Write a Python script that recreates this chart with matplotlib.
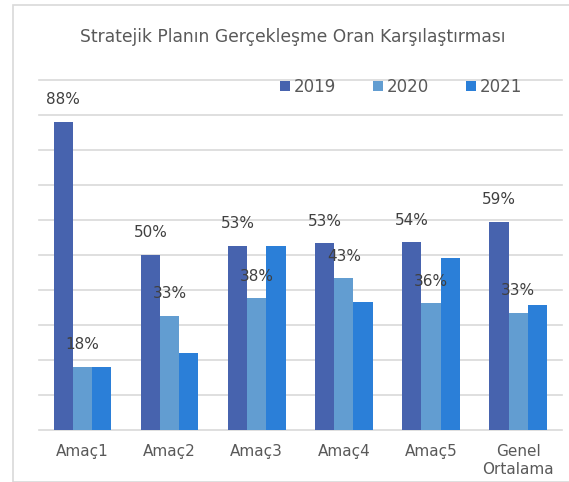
import matplotlib
matplotlib.use("Agg")
import matplotlib.pyplot as plt
import matplotlib.patches as patches
import numpy as np

# chart data
categories = ["Amaç1", "Amaç2", "Amaç3", "Amaç4", "Amaç5", "Genel\nOrtalama"]
years = ["2019", "2020", "2021"]
vals_2019 = [88, 50, 52.6, 53.3, 53.6, 59.4]
vals_2020 = [18, 32.6, 37.6, 43.3, 36.2, 33.4]
vals_2021 = [18, 22, 52.6, 36.7, 49.2, 35.7]
labelled = [True, True, False]  # only 2019 and 2020 carry data labels

colors = ["#4763ae", "#629dd1", "#2b7fd8"]
grid_col = "#d9d9d9"
text_col = "#595959"

fig = plt.figure(figsize=(5.69, 4.82), dpi=100)
ax = fig.add_axes([39 / 569, 1 - 430 / 482, (561.7 - 39) / 569, 350 / 482])

x = np.arange(len(categories))
w = 0.22
series = [vals_2019, vals_2020, vals_2021]
for k, (vals, name) in enumerate(zip(series, years)):
    bars = ax.bar(x + (k - 1) * w, vals, width=w, color=colors[k], label=name, zorder=3)
    if labelled[k]:
        for b, v in zip(bars, vals):
            ax.annotate(f"{v:.0f}%", (b.get_x() + b.get_width() / 2, v),
                        xytext=(0, 16), textcoords="offset points",
                        ha="center", va="center", fontsize=11, color="#404040", zorder=4)

ax.set_xlim(-0.5, len(categories) - 0.5)
ax.set_ylim(0, 100)
ax.set_yticks(np.arange(0, 101, 10))
ax.yaxis.grid(True, color=grid_col, linewidth=1.2, zorder=0)
for gl in ax.get_ygridlines():
    gl.set_clip_on(False)
ax.tick_params(axis="y", length=0, labelleft=False)
ax.set_xticks(x)
ax.set_xticklabels(categories, fontsize=11, color=text_col, linespacing=1.3)
ax.tick_params(axis="x", length=0, pad=10)
for s in ax.spines.values():
    s.set_visible(False)

fig.text(292.5 / 569, 1 - 37 / 482, "Stratejik Planın Gerçekleşme Oran Karşılaştırması",
         ha="center", va="center", fontsize=12.3, color=text_col)

fig.legend(loc="center", bbox_to_anchor=(401 / 569, 1 - 87 / 482), ncol=3, frameon=False,
           fontsize=12, handlelength=0.6, handleheight=0.6, handletextpad=0.25,
           columnspacing=2.2, labelcolor=text_col)

# light chart-area border
fig.patches.append(patches.Rectangle((13 / 569, 0.5 / 482), 1.1, 477 / 482,
                                     transform=fig.transFigure, fill=False,
                                     edgecolor=grid_col, linewidth=1.2))

fig.savefig("out.png", dpi=100)
